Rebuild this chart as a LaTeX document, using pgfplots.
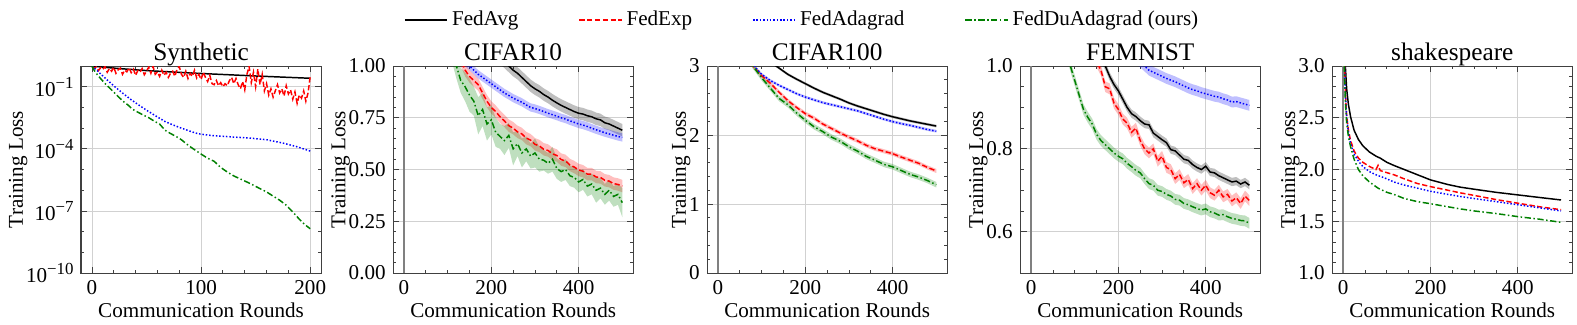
\documentclass[border=0pt]{standalone}
\usepackage{fontspec}
\setmainfont{Liberation Serif}
\usepackage{pgfplots}
\pgfplotsset{compat=1.18}
\usepgfplotslibrary{fillbetween}
\usepackage{pgfplotstable}
\definecolor{mplgreen}{HTML}{008000}

\pgfplotsset{
  sci/.style={
    scale only axis, width=113.8pt, height=98.1pt, anchor=south west,
    axis line style={black!75, line width=0.5pt},
    tick pos=both, tick align=inside,
    major tick length=3pt, minor tick length=1.6pt,
    tick style={black!75, line width=0.4pt},
    grid=major, major grid style={black!18, line width=0.4pt},
    every axis title shift=0pt,
    title style={font=\fontsize{12}{14}\selectfont, text depth=0pt, yshift=-1pt},
    label style={font=\fontsize{10}{12}\selectfont},
    tick label style={font=\fontsize{10}{12}\selectfont},
    xlabel={Communication Rounds}, ylabel={Training Loss},
    xlabel style={yshift=3pt}, ylabel style={yshift=-7.5pt},
    /pgf/number format/assume math mode=true,
    xmin=-25, xmax=525, xtick={0,200,400}, minor x tick num=3,
  },
  fedavg/.style={black, line width=0.7pt},
  fedexp/.style={red, line width=0.7pt, dash pattern=on 2.5pt off 1.2pt},
  fedada/.style={blue, line width=0.7pt, dash pattern=on 0.7pt off 0.9pt},
  feddu/.style={mplgreen, line width=0.7pt, dash pattern=on 3pt off 1.2pt on 0.7pt off 1.2pt},
}

% #1 table, #2 column, #3 spread column, #4 colour, #5 unique name
\newcommand{\band}[5]{%
  \addplot[draw=none, forget plot, name path=#5u] table[x=x, y expr=\thisrow{#2}+\thisrow{#3}] {#1};
  \addplot[draw=none, forget plot, name path=#5l] table[x=x, y expr=\thisrow{#2}-\thisrow{#3}] {#1};
  \addplot[fill=#4, fill opacity=0.25, draw=none, forget plot] fill between[of=#5u and #5l];
}
\newcommand{\tenp}[1]{10\raisebox{0.85ex}{\fontsize{8}{8}\selectfont #1}}

\pgfplotstableread{
x    avg    avgE  exp    expE  ada    adaE  du     duE
60   2.00   0.03  1.60   0.03  1.40   0.02  1.50   0.06
80   1.80   0.03  1.40   0.03  1.25   0.02  1.30   0.06
100  1.60   0.03  1.25   0.03  1.15   0.02  1.15   0.06
110  1.52   0.03  1.16   0.03  1.11   0.02  1.08   0.06
120  1.45   0.03  1.09   0.03  1.07   0.02  1.00   0.06
130  1.38   0.03  1.03   0.03  1.04   0.02  0.93   0.06
140  1.32   0.03  0.98   0.03  1.02   0.02  0.90   0.07
150  1.27   0.03  0.95   0.03  1.00   0.02  0.86   0.08
160  1.22   0.03  0.93   0.03  0.98   0.02  0.83   0.07
170  1.18   0.03  0.91   0.03  0.96   0.02  0.76   0.09
180  1.14   0.03  0.87   0.03  0.945  0.02  0.79   0.08
190  1.11   0.03  0.83   0.03  0.93   0.02  0.72   0.08
200  1.08   0.03  0.80   0.03  0.915  0.02  0.74   0.07
210  1.06   0.03  0.78   0.03  0.90   0.02  0.68   0.07
220  1.04   0.03  0.755  0.03  0.885  0.02  0.66   0.06
230  1.02   0.03  0.735  0.03  0.87   0.02  0.64   0.07
240  1.00   0.03  0.712  0.03  0.858  0.02  0.665  0.06
250  0.98   0.03  0.70   0.03  0.845  0.02  0.60   0.08
260  0.965  0.03  0.682  0.03  0.835  0.02  0.625  0.06
270  0.945  0.03  0.672  0.03  0.825  0.02  0.58   0.07
280  0.925  0.03  0.652  0.03  0.812  0.02  0.60   0.06
290  0.905  0.03  0.642  0.03  0.80   0.02  0.565  0.06
300  0.89   0.03  0.622  0.03  0.795  0.02  0.58   0.07
310  0.878  0.03  0.614  0.03  0.788  0.02  0.55   0.06
320  0.862  0.03  0.598  0.03  0.78   0.02  0.545  0.05
330  0.85   0.03  0.592  0.03  0.772  0.02  0.53   0.05
340  0.835  0.03  0.576  0.03  0.765  0.02  0.55   0.06
350  0.822  0.03  0.568  0.03  0.758  0.02  0.505  0.05
360  0.81   0.03  0.548  0.03  0.75   0.02  0.49   0.05
370  0.80   0.03  0.542  0.03  0.744  0.02  0.50   0.05
380  0.79   0.03  0.522  0.03  0.735  0.02  0.47   0.05
390  0.78   0.03  0.512  0.03  0.728  0.02  0.462  0.05
400  0.772  0.03  0.498  0.03  0.72   0.02  0.44   0.05
410  0.768  0.03  0.492  0.03  0.715  0.02  0.452  0.05
420  0.76   0.03  0.478  0.03  0.708  0.02  0.42   0.05
430  0.755  0.03  0.478  0.03  0.70   0.02  0.43   0.05
440  0.745  0.03  0.464  0.03  0.692  0.02  0.40   0.06
450  0.74   0.03  0.462  0.03  0.685  0.02  0.41   0.05
460  0.726  0.03  0.448  0.03  0.678  0.02  0.38   0.05
470  0.72   0.03  0.444  0.03  0.672  0.02  0.40   0.05
480  0.71   0.03  0.432  0.03  0.666  0.02  0.37   0.05
490  0.70   0.03  0.428  0.03  0.66   0.02  0.38   0.05
500  0.69   0.03  0.42   0.03  0.655  0.02  0.34   0.07
}\cifarten

\pgfplotstableread{
x    avg    avgE  exp    expE  ada    adaE  du     duE
20   4.20   0.02  4.00   0.03  3.90   0.02  4.00   0.04
40   3.90   0.02  3.60   0.03  3.55   0.02  3.60   0.04
60   3.60   0.02  3.25   0.03  3.25   0.02  3.25   0.04
80   3.38   0.02  3.00   0.03  3.02   0.02  3.00   0.04
100  3.20   0.02  2.86   0.03  2.88   0.02  2.83   0.04
120  3.06   0.02  2.75   0.03  2.79   0.02  2.68   0.04
140  2.97   0.02  2.62   0.03  2.72   0.02  2.53   0.04
160  2.88   0.02  2.50   0.03  2.66   0.02  2.44   0.04
180  2.81   0.02  2.40   0.03  2.60   0.02  2.32   0.04
200  2.745  0.02  2.31   0.03  2.55   0.02  2.215  0.04
220  2.68   0.02  2.245  0.03  2.51   0.02  2.12   0.04
240  2.62   0.02  2.16   0.03  2.47   0.02  2.05   0.04
260  2.57   0.02  2.095  0.03  2.44   0.02  1.97   0.04
280  2.52   0.02  2.03   0.03  2.41   0.02  1.91   0.04
300  2.465  0.02  1.97   0.03  2.38   0.02  1.83   0.04
320  2.42   0.02  1.915  0.03  2.35   0.02  1.765  0.04
340  2.38   0.02  1.85   0.03  2.31   0.02  1.69   0.04
360  2.34   0.02  1.80   0.03  2.27   0.02  1.635  0.04
380  2.30   0.02  1.765  0.03  2.23   0.02  1.575  0.04
400  2.265  0.02  1.73   0.03  2.195  0.02  1.54   0.04
420  2.235  0.02  1.68   0.03  2.165  0.02  1.485  0.04
440  2.205  0.02  1.635  0.03  2.14   0.02  1.43   0.04
460  2.18   0.02  1.59   0.03  2.11   0.02  1.39   0.04
480  2.155  0.02  1.53   0.03  2.08   0.02  1.34   0.04
500  2.13   0.02  1.48   0.03  2.056  0.02  1.28   0.04
}\cifarhund

\pgfplotstableread{
x    avg    avgE  exp    expE  ada    adaE  du     duE
60   1.30   0.01  1.25   0.013 1.40   0.013 1.15   0.013
70   1.27   0.01  1.22   0.013 1.37   0.013 1.10   0.013
80   1.24   0.01  1.19   0.013 1.34   0.013 1.04   0.013
90   1.21   0.01  1.16   0.013 1.31   0.013 1.00   0.013
100  1.18   0.01  1.13   0.013 1.28   0.013 0.965  0.013
110  1.15   0.01  1.10   0.013 1.25   0.013 0.93   0.013
120  1.12   0.01  1.08   0.013 1.22   0.013 0.895  0.013
130  1.10   0.01  1.05   0.013 1.19   0.013 0.876  0.013
140  1.07   0.01  1.03   0.013 1.16   0.013 0.86   0.013
150  1.05   0.01  1.01   0.013 1.14   0.013 0.835  0.013
160  1.02   0.01  0.99   0.013 1.12   0.013 0.82   0.013
170  1.00   0.01  0.95   0.013 1.10   0.013 0.81   0.013
180  0.975  0.01  0.945  0.013 1.08   0.013 0.80   0.013
190  0.955  0.01  0.91   0.013 1.07   0.013 0.79   0.013
200  0.94   0.01  0.895  0.013 1.06   0.013 0.782  0.013
210  0.92   0.01  0.872  0.013 1.05   0.013 0.776  0.013
220  0.90   0.01  0.862  0.013 1.04   0.013 0.765  0.013
230  0.885  0.01  0.84   0.013 1.03   0.013 0.757  0.013
240  0.878  0.01  0.85   0.013 1.02   0.013 0.748  0.013
250  0.868  0.01  0.82   0.013 1.01   0.013 0.742  0.013
260  0.86   0.01  0.80   0.013 1.00   0.013 0.728  0.013
270  0.858  0.01  0.79   0.013 0.99   0.013 0.716  0.013
280  0.838  0.01  0.80   0.013 0.985  0.013 0.712  0.013
290  0.83   0.01  0.77   0.013 0.98   0.013 0.70   0.013
300  0.822  0.01  0.782  0.013 0.975  0.013 0.697  0.013
310  0.815  0.01  0.755  0.013 0.97   0.013 0.69   0.013
320  0.798  0.01  0.75   0.013 0.966  0.013 0.686  0.013
330  0.795  0.01  0.728  0.013 0.962  0.013 0.678  0.013
340  0.785  0.01  0.738  0.013 0.957  0.013 0.676  0.013
350  0.775  0.01  0.718  0.013 0.952  0.013 0.668  0.013
360  0.772  0.01  0.726  0.013 0.947  0.013 0.665  0.013
370  0.762  0.01  0.704  0.013 0.943  0.013 0.66   0.013
380  0.755  0.01  0.716  0.013 0.94   0.013 0.656  0.013
390  0.75   0.01  0.70   0.013 0.936  0.013 0.652  0.013
400  0.758  0.01  0.712  0.013 0.933  0.013 0.655  0.013
410  0.744  0.01  0.694  0.013 0.93   0.013 0.648  0.013
420  0.742  0.01  0.688  0.013 0.927  0.013 0.645  0.013
430  0.735  0.01  0.70   0.013 0.925  0.013 0.64   0.013
440  0.73   0.01  0.684  0.013 0.921  0.013 0.641  0.013
450  0.725  0.01  0.69   0.013 0.918  0.013 0.636  0.013
460  0.72   0.01  0.674  0.013 0.913  0.013 0.632  0.013
470  0.722  0.01  0.682  0.013 0.914  0.013 0.63   0.013
480  0.715  0.01  0.668  0.013 0.911  0.013 0.627  0.013
490  0.72   0.01  0.686  0.013 0.908  0.013 0.626  0.013
500  0.712  0.01  0.675  0.013 0.905  0.013 0.62   0.013
}\femnist

\pgfplotstableread{
x    avg    exp    ada    du
1    4.20   4.00   4.00   4.00
2    3.60   3.40   3.40   3.30
3    3.30   3.05   3.05   2.95
5    3.00   2.75   2.74   2.65
8    2.78   2.52   2.50   2.45
12   2.63   2.38   2.36   2.32
17   2.51   2.28   2.25   2.22
25   2.38   2.18   2.15   2.10
35   2.29   2.11   2.08   2.00
45   2.23   2.07   2.03   1.94
60   2.17   2.03   1.98   1.88
75   2.13   2.00   1.95   1.835
80   2.12   2.04   1.94   1.82
85   2.11   1.99   1.935  1.81
100  2.07   1.97   1.91   1.78
116  2.04   1.95   1.88   1.76
140  2.00   1.91   1.85   1.72
170  1.95   1.865  1.82   1.69
200  1.90   1.835  1.79   1.67
240  1.855  1.80   1.76   1.64
268  1.83   1.775  1.74   1.62
300  1.81   1.75   1.72   1.60
350  1.78   1.71   1.69   1.575
400  1.755  1.675  1.66   1.545
450  1.73   1.64   1.63   1.52
499  1.706  1.612  1.60   1.49
}\shakes

\begin{document}
\begin{tikzpicture}

% Synthetic
\begin{axis}[sci, at={(38.4pt,24.2pt)}, title={Synthetic},
  xmin=-10, xmax=210, xtick={0,100,200}, minor x tick num=4,
  ymode=log, ymin=1e-10, ymax=1,
  ytick={1e-10,1e-7,1e-4,1e-1},
  yticklabels={\tenp{−10},\tenp{−7},\tenp{−4},\tenp{−1}},
  minor ytick={1e-9,1e-8,1e-6,1e-5,1e-3,1e-2}]
\addplot[fedavg] coordinates {(0,1.0) (20,0.794) (50,0.603) (100,0.437) (150,0.331) (200,0.257)};
\addplot[fedexp] coordinates {(0,0.955) (2,0.794) (4,0.891) (6,0.603) (8,0.832) (10,0.708) (12,0.933) (14,0.501) (16,0.759) (18,0.562) (20,0.871) (22,0.447) (24,0.661) (26,0.794) (28,0.398) (30,0.631) (32,0.525) (34,0.832) (36,0.479) (38,0.708) (40,0.355) (42,0.603) (44,0.501) (46,0.759) (48,0.380) (50,0.562) (52,0.891) (54,0.447) (56,0.955) (58,0.398) (60,0.525) (62,0.316) (64,0.631) (66,0.355) (68,0.501) (70,0.282) (72,0.447) (74,0.562) (76,0.316) (78,0.708) (80,0.955) (82,0.398) (84,0.282) (86,0.562) (88,0.251) (90,0.447) (92,0.316) (94,0.631) (96,0.263) (98,0.398) (100,0.224) (102,0.501) (104,0.282) (106,0.178) (108,0.355) (110,0.141) (112,0.126) (114,0.200) (116,0.112) (118,0.158) (120,0.100) (122,0.141) (124,0.112) (126,0.200) (128,0.282) (130,0.141) (132,0.251) (134,0.126) (136,0.0794) (138,0.178) (140,0.0708) (142,0.398) (144,0.955) (146,0.158) (148,0.501) (150,0.100) (152,0.708) (154,0.126) (156,0.398) (158,0.0631) (160,0.141) (162,0.0398) (164,0.0794) (166,0.0316) (168,0.0631) (170,0.126) (172,0.0501) (174,0.0794) (176,0.0355) (178,0.112) (180,0.0447) (182,0.0708) (184,0.0251) (186,0.0562) (188,0.0158) (190,0.0398) (192,0.0282) (194,0.0631) (196,0.0200) (198,0.0501) (200,0.316)};
\addplot[fedada] coordinates {(0,1.0) (4,0.66) (9,0.37) (15,0.19) (21,0.1) (28,0.050) (36,0.0234) (44,0.0120) (52,6.3e-3) (60,3.47e-3) (67,2.09e-3) (75,1.38e-3) (82,1.0e-3) (90,7.1e-4) (97,5.4e-4) (105,4.7e-4) (112,4.3e-4) (122,4.0e-4) (130,3.7e-4) (145,3.3e-4) (160,2.75e-4) (175,1.9e-4) (188,1.26e-4) (200,7.8e-5)};
\addplot[feddu] coordinates {(0,1.0) (2,0.63) (5,0.38) (9,0.214) (13,0.126) (17,0.079) (21,0.049) (25,0.030) (29,0.019) (33,0.0132) (37,8.3e-3) (41,6.3e-3) (46,4.6e-3) (52,3.2e-3) (57,2.2e-3) (62,1.58e-3) (67,7.9e-4) (72,5.5e-4) (77,4.0e-4) (82,2.75e-4) (88,1.51e-4) (94,9.1e-5) (100,5.6e-5) (106,3.5e-5) (112,2.5e-5) (118,1.26e-5) (124,7.6e-6) (130,4.9e-6) (136,3.5e-6) (142,2.5e-6) (148,1.74e-6) (154,1.2e-6) (160,8.3e-7) (166,5.2e-7) (172,3.3e-7) (178,1.9e-7) (184,8.9e-8) (190,4.0e-8) (195,2.2e-8) (200,1.38e-8)};
\end{axis}

% CIFAR10
\begin{axis}[sci, at={(186.3pt,24.2pt)}, title={CIFAR10},
  ymin=0, ymax=1, ytick={0,0.25,0.5,0.75,1}, minor y tick num=4,
  yticklabel style={/pgf/number format/.cd, fixed, fixed zerofill, precision=2}]
\band{\cifarten}{avg}{avgE}{black}{ca}
\band{\cifarten}{exp}{expE}{red}{ce}
\band{\cifarten}{ada}{adaE}{blue}{cb}
\band{\cifarten}{du}{duE}{mplgreen}{cg}
\addplot[gray, line width=0.9pt, forget plot] coordinates {(0,0) (0,1)};
\addplot[fedavg] table[x=x, y=avg] {\cifarten};
\addplot[fedexp] table[x=x, y=exp] {\cifarten};
\addplot[fedada] table[x=x, y=ada] {\cifarten};
\addplot[feddu] table[x=x, y=du] {\cifarten};
\end{axis}

% CIFAR100
\begin{axis}[sci, at={(335.1pt,24.2pt)}, title={CIFAR100},
  ymin=0, ymax=3, ytick={0,1,2,3}, minor y tick num=4,
  legend style={at={(0.401,1.222)}, anchor=center, draw=none, fill=none,
    legend columns=4, font=\fontsize{10}{12}\selectfont,
    /tikz/every even column/.append style={column sep=26.5pt}},
  legend image code/.code={\draw[#1] (0pt,0pt) -- (20pt,0pt);}]
\band{\cifarhund}{avg}{avgE}{black}{ha}
\band{\cifarhund}{exp}{expE}{red}{he}
\band{\cifarhund}{ada}{adaE}{blue}{hb}
\band{\cifarhund}{du}{duE}{mplgreen}{hg}
\addplot[gray, line width=0.9pt, forget plot] coordinates {(0,0) (0,3)};
\addplot[fedavg] table[x=x, y=avg] {\cifarhund};
\addplot[fedexp] table[x=x, y=exp] {\cifarhund};
\addplot[fedada] table[x=x, y=ada] {\cifarhund};
\addplot[feddu] table[x=x, y=du] {\cifarhund};
\legend{FedAvg, FedExp, FedAdagrad, FedDuAdagrad (ours)}
\end{axis}

% FEMNIST
\begin{axis}[sci, at={(483.5pt,24.2pt)}, title={FEMNIST},
  ymin=0.5, ymax=1, ytick={0.6,0.8,1.0}, minor y tick num=3,
  yticklabel style={/pgf/number format/.cd, fixed, fixed zerofill, precision=1}]
\band{\femnist}{avg}{avgE}{black}{fa}
\band{\femnist}{exp}{expE}{red}{fe}
\band{\femnist}{ada}{adaE}{blue}{fb}
\band{\femnist}{du}{duE}{mplgreen}{fg}
\addplot[gray, line width=0.9pt, forget plot] coordinates {(0,0.5) (0,1)};
\addplot[fedavg] table[x=x, y=avg] {\femnist};
\addplot[fedexp] table[x=x, y=exp] {\femnist};
\addplot[fedada] table[x=x, y=ada] {\femnist};
\addplot[feddu] table[x=x, y=du] {\femnist};
\end{axis}

% shakespeare
\begin{axis}[sci, at={(631.4pt,24.2pt)}, title={shakespeare},
  ymin=1, ymax=3, ytick={1,1.5,2,2.5,3}, minor y tick num=4,
  yticklabel style={/pgf/number format/.cd, fixed, fixed zerofill, precision=1}]
\addplot[gray, line width=0.9pt, forget plot] coordinates {(0,1) (0,3)};
\addplot[fedavg] table[x=x, y=avg] {\shakes};
\addplot[fedexp] table[x=x, y=exp] {\shakes};
\addplot[fedada] table[x=x, y=ada] {\shakes};
\addplot[feddu] table[x=x, y=du] {\shakes};
\end{axis}

\pgfresetboundingbox
\path[use as bounding box] (0,0) rectangle (747.4pt,153.6pt);
\end{tikzpicture}
\end{document}
